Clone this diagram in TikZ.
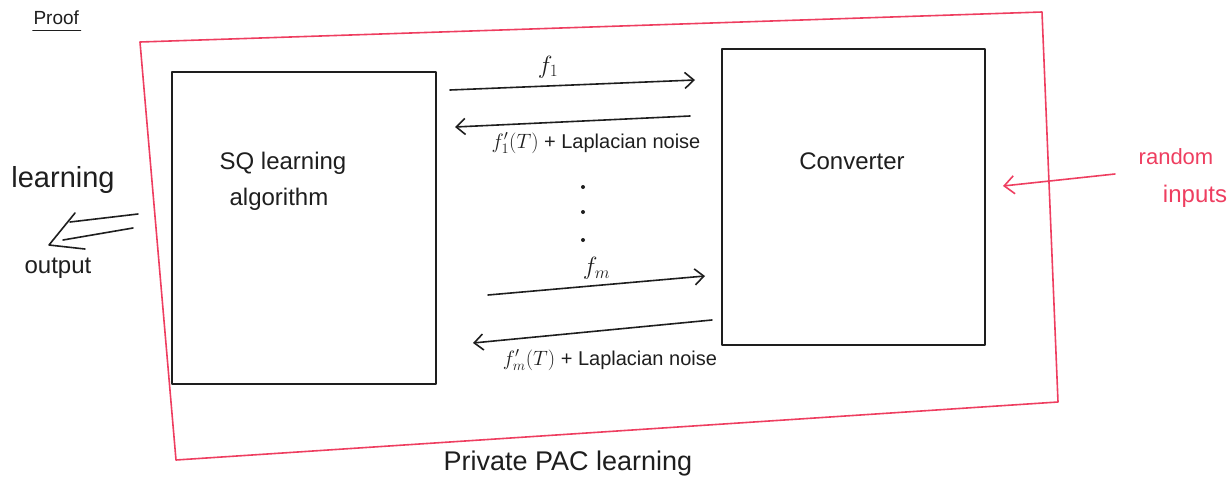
\documentclass[tikz,border=0pt]{standalone}
\usepackage{fontspec}
\setmainfont{Liberation Sans}
\usetikzlibrary{arrows.meta,calc}
\definecolor{penred}{RGB}{238,62,96}
\definecolor{penink}{RGB}{30,30,30}
\tikzset{
  ink/.style={draw=penink, line width=1.6pt, line cap=round, line join=round},
  redink/.style={draw=penred, line width=1.6pt, line cap=round, line join=round},
  msg/.style={ink, -{Straight Barb[length=9pt,width=16pt]}},
  lbl/.style={text=penink, font=\fontsize{24}{28}\selectfont},
  small/.style={text=penink, font=\fontsize{20}{24}\selectfont},
  redlbl/.style={text=penred, font=\fontsize{24}{28}\selectfont},
  dot/.style={circle, fill=penink, inner sep=0pt, minimum size=4pt},
}
\begin{document}
\begin{tikzpicture}[x=1pt,y=-1pt]
\useasboundingbox (0,0) rectangle (1232,482);

% outer frame: private PAC learner
\coordinate (o1) at (140,42);
\coordinate (o2) at (1042,12);
\coordinate (o3) at (1058,402);
\coordinate (o4) at (176,460);
\draw[redink] (o1) -- (o2) -- (o3) -- (o4) -- cycle;
\node[lbl, font=\fontsize{27}{30}\selectfont] (pac) at (568,464) {Private PAC learning};

% the two components
\node[ink, rectangle, minimum width=264pt, minimum height=312pt] (sq) at (304,228) {};
\node[lbl, align=left] (sqtext) at (283,181) {SQ learning\\[8pt]\hspace*{10pt}algorithm};
\node[ink, rectangle, minimum width=263pt, minimum height=296pt] (conv) at (853.5,197) {};
\node[lbl] (convtext) at (852,161) {Converter};

% query / answer exchanges
\coordinate (q1s) at (450,90);
\coordinate (q1e) at (695,80);
\draw[msg] (q1s) -- node[lbl, above=4pt, pos=0.4] (f1) {$f_1$} (q1e);
\coordinate (a1s) at (690,116);
\coordinate (a1e) at (455,127);
\draw[msg] (a1s) -- (a1e);
\node[small] (a1) at (596,143) {$f'_1(T)$ + Laplacian noise};

\node[dot] (d1) at (583,187) {};
\node[dot] (d2) at (583,212) {};
\node[dot] (d3) at (583,240) {};

\coordinate (qms) at (488,295);
\coordinate (qme) at (705,276);
\draw[msg] (qms) -- node[lbl, above=2pt, pos=0.5] (fm) {$f_m$} (qme);
\coordinate (ams) at (712,320);
\coordinate (ame) at (473,343);
\draw[msg] (ams) -- (ame);
\node[small] (am) at (610,360) {$f'_m(T)$ + Laplacian noise};

% learning output leaving the algorithm (double-stroke arrow)
\coordinate (u1) at (138,214);
\coordinate (u2) at (70,222);
\coordinate (l1) at (133,228);
\coordinate (l2) at (63,240);
\coordinate (tip) at (49,245);
\coordinate (tipa) at (75,213);
\coordinate (tipb) at (85,249);
\draw[ink] (u1) -- (u2);
\draw[ink] (l1) -- (l2);
\draw[ink] (tipa) -- (tip) -- (tipb);
\node[lbl, font=\fontsize{29}{32}\selectfont] (learn) at (63,180) {learning};
\node[lbl] (outtext) at (58,268) {output};

% random inputs feeding the converter
\coordinate (rs) at (1115,174);
\coordinate (re) at (1003,186);
\draw[redink, -{Straight Barb[length=10pt,width=18pt]}] (rs) -- (re);
\node[redlbl, font=\fontsize{22}{26}\selectfont] (rand) at (1176,157) {random};
\node[redlbl] (inp) at (1195,196) {inputs};

% heading
\node[lbl, font=\fontsize{19}{22}\selectfont, anchor=west] (proof) at (30,18) {Proof};
\draw[ink] (proof.south west) ++(3,2) -- ($(proof.south east)+(-2,2)$);
\end{tikzpicture}
\end{document}
